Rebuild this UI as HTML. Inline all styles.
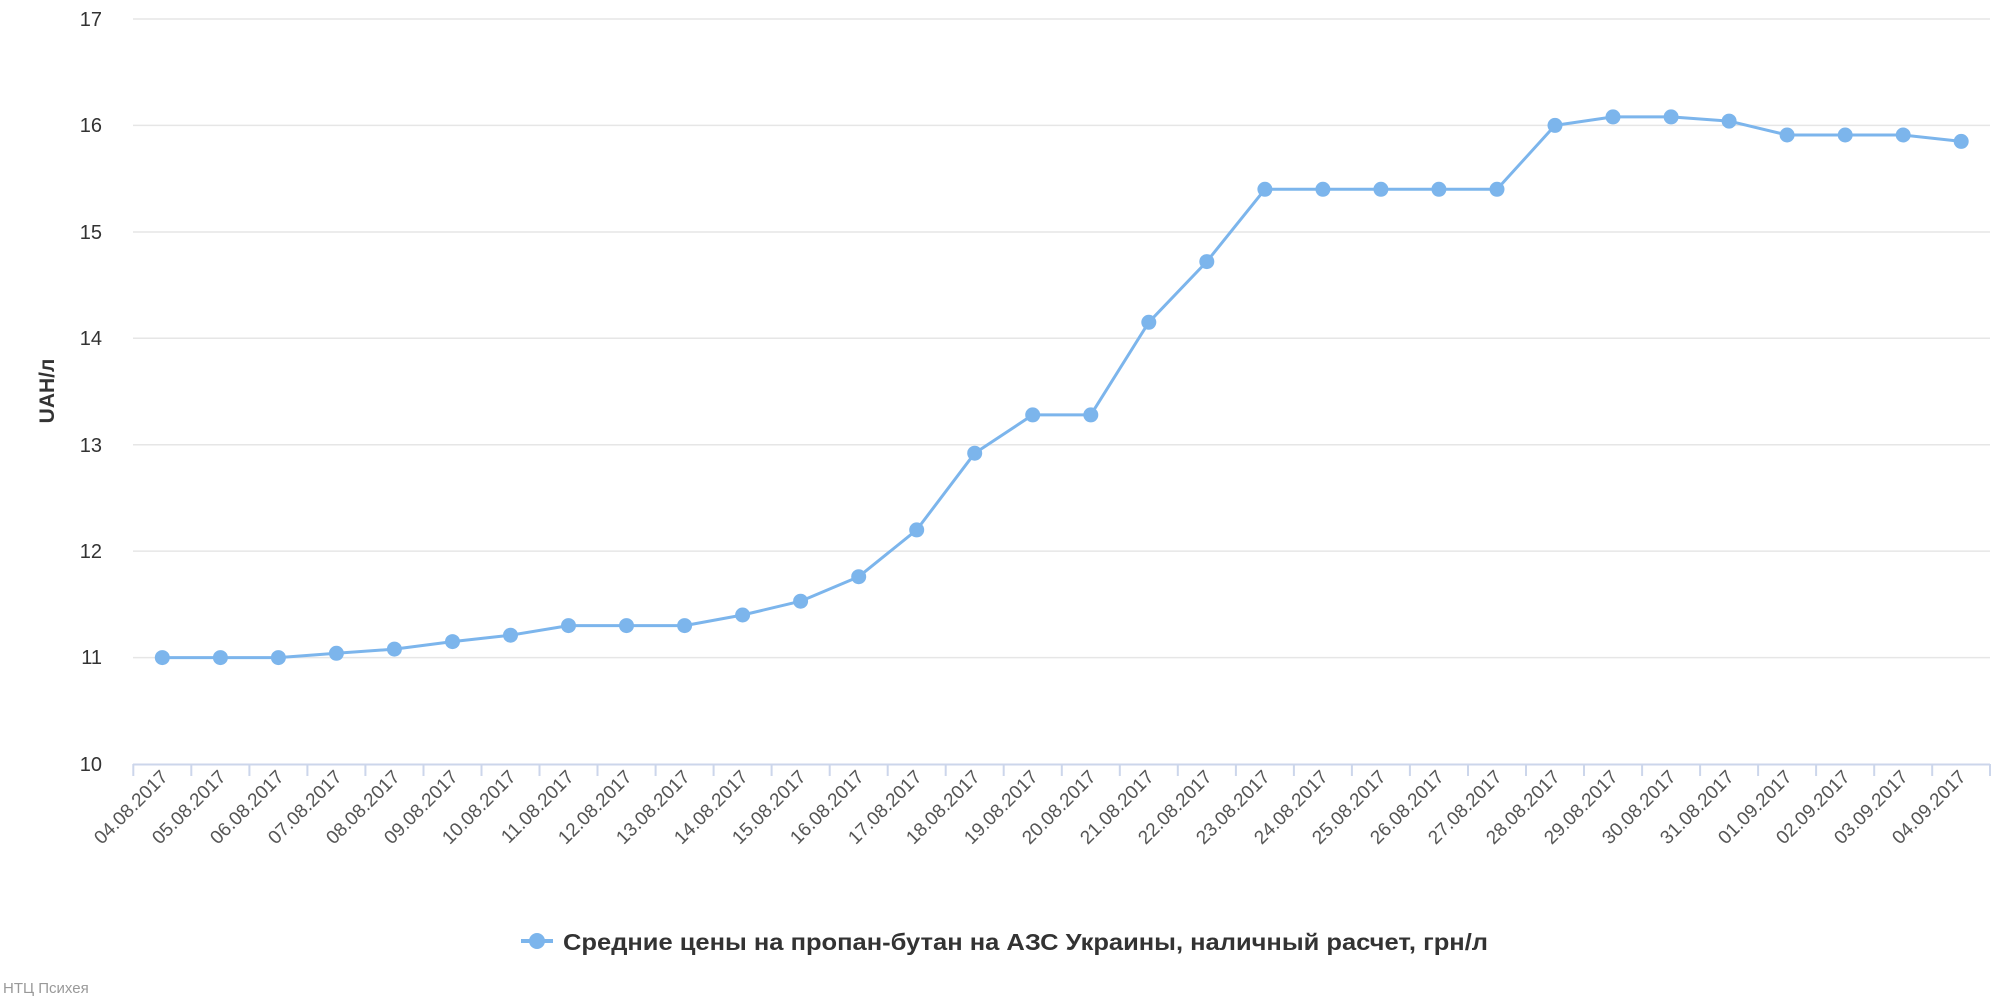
<!DOCTYPE html>
<html><head><meta charset="utf-8"><style>html,body{margin:0;padding:0;background:#fff}svg{display:block}text{font-family:"Liberation Sans","DejaVu Sans",sans-serif}</style></head>
<body>
<svg width="2000" height="1000" viewBox="0 0 2000 1000" xmlns="http://www.w3.org/2000/svg">
<g stroke="#e6e6e6" stroke-width="1.5">
<line x1="133" y1="19" x2="1990" y2="19"/><line x1="133" y1="125.4" x2="1990" y2="125.4"/><line x1="133" y1="232" x2="1990" y2="232"/><line x1="133" y1="338.3" x2="1990" y2="338.3"/><line x1="133" y1="444.7" x2="1990" y2="444.7"/><line x1="133" y1="551.1" x2="1990" y2="551.1"/><line x1="133" y1="657.6" x2="1990" y2="657.6"/>
</g>
<line x1="133" y1="764.5" x2="1990" y2="764.5" stroke="#ccd6eb" stroke-width="2"/>
<g stroke="#ccd6eb" stroke-width="2">
<line x1="133.3" y1="764" x2="133.3" y2="776"/><line x1="191.3" y1="764" x2="191.3" y2="776"/><line x1="249.4" y1="764" x2="249.4" y2="776"/><line x1="307.4" y1="764" x2="307.4" y2="776"/><line x1="365.4" y1="764" x2="365.4" y2="776"/><line x1="423.5" y1="764" x2="423.5" y2="776"/><line x1="481.5" y1="764" x2="481.5" y2="776"/><line x1="539.5" y1="764" x2="539.5" y2="776"/><line x1="597.5" y1="764" x2="597.5" y2="776"/><line x1="655.6" y1="764" x2="655.6" y2="776"/><line x1="713.6" y1="764" x2="713.6" y2="776"/><line x1="771.6" y1="764" x2="771.6" y2="776"/><line x1="829.7" y1="764" x2="829.7" y2="776"/><line x1="887.7" y1="764" x2="887.7" y2="776"/><line x1="945.7" y1="764" x2="945.7" y2="776"/><line x1="1003.7" y1="764" x2="1003.7" y2="776"/><line x1="1061.8" y1="764" x2="1061.8" y2="776"/><line x1="1119.8" y1="764" x2="1119.8" y2="776"/><line x1="1177.8" y1="764" x2="1177.8" y2="776"/><line x1="1235.9" y1="764" x2="1235.9" y2="776"/><line x1="1293.9" y1="764" x2="1293.9" y2="776"/><line x1="1351.9" y1="764" x2="1351.9" y2="776"/><line x1="1409.9" y1="764" x2="1409.9" y2="776"/><line x1="1468" y1="764" x2="1468" y2="776"/><line x1="1526" y1="764" x2="1526" y2="776"/><line x1="1584" y1="764" x2="1584" y2="776"/><line x1="1642.1" y1="764" x2="1642.1" y2="776"/><line x1="1700.1" y1="764" x2="1700.1" y2="776"/><line x1="1758.1" y1="764" x2="1758.1" y2="776"/><line x1="1816.1" y1="764" x2="1816.1" y2="776"/><line x1="1874.2" y1="764" x2="1874.2" y2="776"/><line x1="1932.2" y1="764" x2="1932.2" y2="776"/><line x1="1990" y1="764" x2="1990" y2="776"/>
</g>
<g font-size="20" fill="#333" text-anchor="end">
<text x="102" y="26">17</text><text x="102" y="132">16</text><text x="102" y="239">15</text><text x="102" y="345">14</text><text x="102" y="452">13</text><text x="102" y="558">12</text><text x="102" y="664">11</text><text x="102" y="771">10</text>
</g>
<text transform="translate(54,391) rotate(-90)" text-anchor="middle" font-size="21" font-weight="bold" fill="#333">UAH/л</text>
<polyline fill="none" stroke="#7cb5ec" stroke-width="3" stroke-linejoin="round" points="162.3,657.6 220.4,657.6 278.4,657.6 336.4,653.3 394.4,649.1 452.5,641.6 510.5,635.2 568.5,625.6 626.5,625.6 684.6,625.6 742.6,615 800.6,601.2 858.7,576.7 916.7,529.9 974.7,453.2 1032.7,414.9 1090.8,414.9 1148.8,322.3 1206.8,261.6 1264.9,189.3 1322.9,189.3 1380.9,189.3 1438.9,189.3 1497,189.3 1555,125.4 1613,116.9 1671.1,116.9 1729.1,121.1 1787.1,135 1845.2,135 1903.2,135 1961.2,141.4"/>
<g fill="#7cb5ec">
<circle cx="162.3" cy="657.6" r="7.5"/><circle cx="220.4" cy="657.6" r="7.5"/><circle cx="278.4" cy="657.6" r="7.5"/><circle cx="336.4" cy="653.3" r="7.5"/><circle cx="394.4" cy="649.1" r="7.5"/><circle cx="452.5" cy="641.6" r="7.5"/><circle cx="510.5" cy="635.2" r="7.5"/><circle cx="568.5" cy="625.6" r="7.5"/><circle cx="626.5" cy="625.6" r="7.5"/><circle cx="684.6" cy="625.6" r="7.5"/><circle cx="742.6" cy="615" r="7.5"/><circle cx="800.6" cy="601.2" r="7.5"/><circle cx="858.7" cy="576.7" r="7.5"/><circle cx="916.7" cy="529.9" r="7.5"/><circle cx="974.7" cy="453.2" r="7.5"/><circle cx="1032.7" cy="414.9" r="7.5"/><circle cx="1090.8" cy="414.9" r="7.5"/><circle cx="1148.8" cy="322.3" r="7.5"/><circle cx="1206.8" cy="261.6" r="7.5"/><circle cx="1264.9" cy="189.3" r="7.5"/><circle cx="1322.9" cy="189.3" r="7.5"/><circle cx="1380.9" cy="189.3" r="7.5"/><circle cx="1438.9" cy="189.3" r="7.5"/><circle cx="1497" cy="189.3" r="7.5"/><circle cx="1555" cy="125.4" r="7.5"/><circle cx="1613" cy="116.9" r="7.5"/><circle cx="1671.1" cy="116.9" r="7.5"/><circle cx="1729.1" cy="121.1" r="7.5"/><circle cx="1787.1" cy="135" r="7.5"/><circle cx="1845.2" cy="135" r="7.5"/><circle cx="1903.2" cy="135" r="7.5"/><circle cx="1961.2" cy="141.4" r="7.5"/>
</g>
<g font-size="19" fill="#555" text-anchor="end">
<text transform="translate(169,778) rotate(-45)">04.08.2017</text>
<text transform="translate(227,778) rotate(-45)">05.08.2017</text>
<text transform="translate(285,778) rotate(-45)">06.08.2017</text>
<text transform="translate(343,778) rotate(-45)">07.08.2017</text>
<text transform="translate(401,778) rotate(-45)">08.08.2017</text>
<text transform="translate(459,778) rotate(-45)">09.08.2017</text>
<text transform="translate(517,778) rotate(-45)">10.08.2017</text>
<text transform="translate(575,778) rotate(-45)">11.08.2017</text>
<text transform="translate(633,778) rotate(-45)">12.08.2017</text>
<text transform="translate(691,778) rotate(-45)">13.08.2017</text>
<text transform="translate(749,778) rotate(-45)">14.08.2017</text>
<text transform="translate(807,778) rotate(-45)">15.08.2017</text>
<text transform="translate(865,778) rotate(-45)">16.08.2017</text>
<text transform="translate(923,778) rotate(-45)">17.08.2017</text>
<text transform="translate(981,778) rotate(-45)">18.08.2017</text>
<text transform="translate(1039,778) rotate(-45)">19.08.2017</text>
<text transform="translate(1097,778) rotate(-45)">20.08.2017</text>
<text transform="translate(1155,778) rotate(-45)">21.08.2017</text>
<text transform="translate(1213,778) rotate(-45)">22.08.2017</text>
<text transform="translate(1271,778) rotate(-45)">23.08.2017</text>
<text transform="translate(1329,778) rotate(-45)">24.08.2017</text>
<text transform="translate(1387,778) rotate(-45)">25.08.2017</text>
<text transform="translate(1445,778) rotate(-45)">26.08.2017</text>
<text transform="translate(1503,778) rotate(-45)">27.08.2017</text>
<text transform="translate(1561,778) rotate(-45)">28.08.2017</text>
<text transform="translate(1619,778) rotate(-45)">29.08.2017</text>
<text transform="translate(1677,778) rotate(-45)">30.08.2017</text>
<text transform="translate(1735,778) rotate(-45)">31.08.2017</text>
<text transform="translate(1793,778) rotate(-45)">01.09.2017</text>
<text transform="translate(1851,778) rotate(-45)">02.09.2017</text>
<text transform="translate(1909,778) rotate(-45)">03.09.2017</text>
<text transform="translate(1967,778) rotate(-45)">04.09.2017</text>
</g>
<line x1="521" y1="941" x2="553" y2="941" stroke="#7cb5ec" stroke-width="4"/>
<circle cx="537" cy="941" r="8" fill="#7cb5ec"/>
<text x="563" y="950" font-size="23" font-weight="bold" fill="#333" textLength="925" lengthAdjust="spacingAndGlyphs">Средние цены на пропан-бутан на АЗС Украины, наличный расчет, грн/л</text>
<text x="3" y="993" font-size="15" fill="#999">НТЦ Психея</text>
</svg>
</body></html>
